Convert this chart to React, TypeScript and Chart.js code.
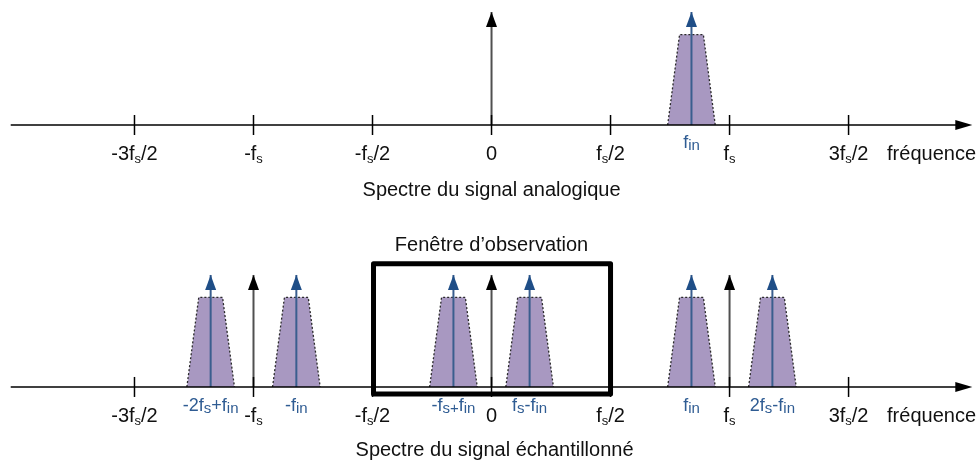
import React, { useEffect, useRef } from "react";
import { Chart, registerables } from "chart.js";
Chart.register(...registerables);

type Seg = { t: string; sub?: boolean };

// ---- frequency axis (units of fs) ----
const TICK_VALUES = [-1.5, -1, -0.5, 0, 0.5, 1, 1.5];
const TICK_LABELS: Seg[][] = [
  [{ t: "-3f" }, { t: "s", sub: true }, { t: "/2" }],
  [{ t: "-f" }, { t: "s", sub: true }],
  [{ t: "-f" }, { t: "s", sub: true }, { t: "/2" }],
  [{ t: "0" }],
  [{ t: "f" }, { t: "s", sub: true }, { t: "/2" }],
  [{ t: "f" }, { t: "s", sub: true }],
  [{ t: "3f" }, { t: "s", sub: true }, { t: "/2" }],
];
const AXIS_NAME = "fréquence";

// ---- analog spectrum (top) ----
const ANALOG_CARRIERS = [0];
const ANALOG_SIGNAL = [0.84];
const ANALOG_LABELS: Seg[][] = [[{ t: "f" }, { t: "in", sub: true }]];
const TITLE_TOP = "Spectre du signal analogique";

// ---- sampled spectrum (bottom) ----
const SAMPLED_CARRIERS = [-1, 0, 1];
const SAMPLED_SIGNAL = [-1.18, -0.82, -0.16, 0.16, 0.84, 1.18];
const SAMPLED_LABELS: Seg[][] = [
  [{ t: "-2f" }, { t: "s", sub: true }, { t: "+f" }, { t: "in", sub: true }],
  [{ t: "-f" }, { t: "in", sub: true }],
  [{ t: "-f" }, { t: "s+", sub: true }, { t: "f" }, { t: "in", sub: true }],
  [{ t: "f" }, { t: "s", sub: true }, { t: "-f" }, { t: "in", sub: true }],
  [{ t: "f" }, { t: "in", sub: true }],
  [{ t: "2f" }, { t: "s", sub: true }, { t: "-f" }, { t: "in", sub: true }],
];
const TITLE_BOTTOM = "Spectre du signal échantillonné";
const WINDOW_TITLE = "Fenêtre d’observation";
const WINDOW_RANGE = [-0.5, 0.5];

// ---- shapes ----
const ARROW_AMPLITUDE = 1;
const BAND_AMPLITUDE = 0.8;
const BAND_HALF_BOTTOM = 0.1;
const BAND_HALF_TOP = 0.05;
const AXIS_RANGE = [-2.02, 2.02];

const BLACK = "#111111";
const STEM_GRAY = "#505050";
const BLUE_STEM = "#3A5E8E";
const BLUE_HEAD = "#1F4E87";
const BLUE_TEXT = "#2F5C93";
const BAND_FILL = "#A898C1";
const BAND_EDGE = "#2a2a2a";
const FONT = "'Liberation Sans', Arial, sans-serif";

function drawRich(
  ctx: CanvasRenderingContext2D,
  segs: Seg[],
  x: number,
  y: number,
  main: string,
  sub: string,
  subDy: number,
  color: string
) {
  ctx.save();
  ctx.fillStyle = color;
  ctx.textBaseline = "alphabetic";
  ctx.textAlign = "left";
  let w = 0;
  for (const s of segs) {
    ctx.font = s.sub ? sub : main;
    w += ctx.measureText(s.t).width;
  }
  let cx = x - w / 2;
  for (const s of segs) {
    ctx.font = s.sub ? sub : main;
    ctx.fillText(s.t, cx, y + (s.sub ? subDy : 0));
    cx += ctx.measureText(s.t).width;
  }
  ctx.restore();
}

export default function App() {
  const ref = useRef<HTMLCanvasElement>(null);

  useEffect(() => {
    const canvas = ref.current!;
    const datasets: any[] = [];
    const addPanel = (axis: string, carriers: number[], signals: number[]) => {
      signals.forEach((c) => {
        datasets.push({
          type: "line",
          yAxisID: axis,
          data: [
            { x: c - BAND_HALF_BOTTOM, y: 0 },
            { x: c - BAND_HALF_TOP, y: BAND_AMPLITUDE },
            { x: c + BAND_HALF_TOP, y: BAND_AMPLITUDE },
            { x: c + BAND_HALF_BOTTOM, y: 0 },
          ],
          fill: { value: 0 },
          backgroundColor: BAND_FILL,
          borderColor: BAND_EDGE,
          borderWidth: 1.3,
          borderDash: [2, 2],
          pointRadius: 0,
          tension: 0,
          order: 3,
        });
        datasets.push({
          type: "line",
          yAxisID: axis,
          data: [
            { x: c, y: 0 },
            { x: c, y: ARROW_AMPLITUDE },
          ],
          borderColor: BLUE_STEM,
          borderWidth: 2,
          pointRadius: 0,
          fill: false,
          arrowColor: BLUE_HEAD,
          order: 1,
        });
      });
      carriers.forEach((c) => {
        datasets.push({
          type: "line",
          yAxisID: axis,
          data: [
            { x: c, y: 0 },
            { x: c, y: ARROW_AMPLITUDE },
          ],
          borderColor: STEM_GRAY,
          borderWidth: 2,
          pointRadius: 0,
          fill: false,
          arrowColor: "#000000",
          order: 1,
        });
      });
    };
    addPanel("yTop", ANALOG_CARRIERS, ANALOG_SIGNAL);
    addPanel("yBot", SAMPLED_CARRIERS, SAMPLED_SIGNAL);

    const diagram = {
      id: "diagram",
      afterDatasetsDraw(chart: any) {
        const ctx: CanvasRenderingContext2D = chart.ctx;
        const xs = chart.scales.x;
        const area = chart.chartArea;

        // arrow heads
        chart.data.datasets.forEach((ds: any, i: number) => {
          if (!ds.arrowColor) return;
          const pt = chart.getDatasetMeta(i).data[1];
          ctx.save();
          ctx.fillStyle = ds.arrowColor;
          ctx.beginPath();
          ctx.moveTo(pt.x, pt.y);
          ctx.lineTo(pt.x + 5.5, pt.y + 15);
          ctx.lineTo(pt.x - 5.5, pt.y + 15);
          ctx.closePath();
          ctx.fill();
          ctx.restore();
        });

        const panels = [
          { id: "yTop", labels: ANALOG_LABELS, sig: ANALOG_SIGNAL, title: TITLE_TOP, tdy: 71, tdx: 0, bdy: 23 },
          { id: "yBot", labels: SAMPLED_LABELS, sig: SAMPLED_SIGNAL, title: TITLE_BOTTOM, tdy: 69, tdx: 3, bdy: 24.5 },
        ];
        for (const p of panels) {
          const ys = chart.scales[p.id];
          const y0 = ys.getPixelForValue(0);
          const xa = xs.getPixelForValue(AXIS_RANGE[0]);
          const xb = xs.getPixelForValue(AXIS_RANGE[1]);
          ctx.save();
          ctx.strokeStyle = "#000";
          ctx.fillStyle = "#000";
          ctx.lineWidth = 1.6;
          ctx.beginPath();
          ctx.moveTo(xa, y0);
          ctx.lineTo(xb - 12, y0);
          ctx.stroke();
          ctx.beginPath();
          ctx.moveTo(xb, y0);
          ctx.lineTo(xb - 17, y0 - 5);
          ctx.lineTo(xb - 17, y0 + 5);
          ctx.closePath();
          ctx.fill();
          ctx.lineWidth = 1.5;
          TICK_VALUES.forEach((v) => {
            const x = xs.getPixelForValue(v);
            ctx.beginPath();
            ctx.moveTo(x, y0 - 10);
            ctx.lineTo(x, y0 + 10);
            ctx.stroke();
          });
          ctx.restore();

          TICK_VALUES.forEach((v, i) => {
            drawRich(ctx, TICK_LABELS[i], xs.getPixelForValue(v), y0 + 35,
              `20px ${FONT}`, `13px ${FONT}`, 3, BLACK);
          });
          p.sig.forEach((v, i) => {
            drawRich(ctx, p.labels[i], xs.getPixelForValue(v), y0 + p.bdy,
              `18px ${FONT}`, `15px ${FONT}`, 2, BLUE_TEXT);
          });
          ctx.save();
          ctx.font = `20px ${FONT}`;
          ctx.fillStyle = BLACK;
          ctx.textAlign = "right";
          ctx.textBaseline = "alphabetic";
          ctx.fillText(AXIS_NAME, area.right - 3, y0 + 35);
          ctx.textAlign = "center";
          ctx.fillText(p.title, xs.getPixelForValue(0) + p.tdx, y0 + p.tdy);
          ctx.restore();
        }

        // observation window
        const yb = chart.scales.yBot;
        const bx0 = xs.getPixelForValue(WINDOW_RANGE[0]);
        const bx1 = xs.getPixelForValue(WINDOW_RANGE[1]);
        const by0 = yb.getPixelForValue(1.1);
        const by1 = yb.getPixelForValue(-0.062);
        ctx.save();
        ctx.strokeStyle = "#000";
        ctx.lineWidth = 5;
        ctx.lineJoin = "round";
        ctx.strokeRect(bx0 + 1, by0, bx1 - bx0 - 1, by1 - by0);
        ctx.font = `20px ${FONT}`;
        ctx.fillStyle = BLACK;
        ctx.textAlign = "center";
        ctx.textBaseline = "alphabetic";
        ctx.fillText(WINDOW_TITLE, (bx0 + bx1) / 2, by0 - 13);
        ctx.restore();
      },
    };

    const chart = new Chart(canvas, {
      type: "line",
      data: { datasets },
      options: {
        animation: false,
        responsive: false,
        devicePixelRatio: 1,
        layout: { padding: 0, autoPadding: false } as any,
        plugins: { legend: { display: false }, tooltip: { enabled: false } },
        events: [],
        scales: {
          x: { type: "linear", min: -2.065, max: 2.048, display: false },
          yTop: { type: "linear", min: -2.973, max: 1.106, display: false },
          yBot: { type: "linear", min: -0.661, max: 3.455, display: false },
        },
      } as any,
      plugins: [diagram],
    });
    return () => chart.destroy();
  }, []);

  return (
    <div style={{ position: "absolute", left: 0, top: 0, width: 979, height: 461, background: "#fff" }}>
      <canvas ref={ref} width={979} height={461} style={{ display: "block" }} />
    </div>
  );
}
